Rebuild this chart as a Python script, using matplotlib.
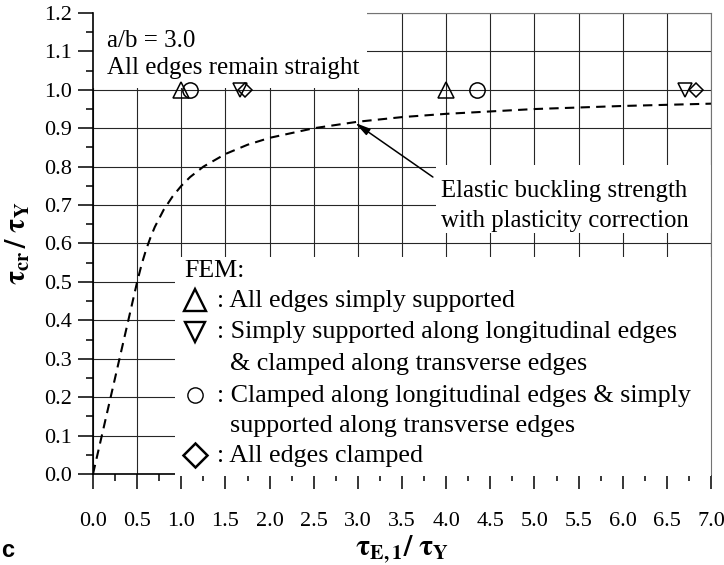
import matplotlib
matplotlib.use("Agg")
import matplotlib.pyplot as plt
from matplotlib.patches import Rectangle
from matplotlib.ticker import MultipleLocator, FormatStrFormatter

plt.rcParams["font.family"] = ["Liberation Serif", "DejaVu Serif"]
plt.rcParams["mathtext.fontset"] = "stix"

# elastic buckling strength with plasticity correction (dashed curve)
tau_e = [0.0, 0.1, 0.2, 0.3, 0.4, 0.5, 0.55, 0.6, 0.65, 0.7, 0.8, 0.9, 1.0,
         1.1, 1.25, 1.5, 1.75, 2.0, 2.5, 3.0, 3.5, 4.0, 5.0, 6.0, 7.0]
tau_cr = [0.0, 0.1, 0.2, 0.3, 0.4, 0.5, 0.545, 0.583, 0.615, 0.643, 0.6875,
          0.722, 0.75, 0.773, 0.8, 0.833, 0.857, 0.875, 0.9, 0.917, 0.929,
          0.9375, 0.95, 0.958, 0.964]

# FEM results
ss_x = [1.0, 4.0]          # all edges simply supported
ss_y = [1.0, 1.0]
sc_x = [1.67, 6.70]        # SS longitudinal, clamped transverse
sc_y = [1.0, 1.0]
cs_x = [1.10, 4.35]        # clamped longitudinal, SS transverse
cs_y = [1.0, 1.0]
cc_x = [1.72, 6.83]        # all edges clamped
cc_y = [1.0, 1.0]

legend_lines = [
    ("^", ": All edges simply supported", None),
    ("v", ": Simply supported along longitudinal edges",
     "& clamped along transverse edges"),
    ("o", ": Clamped along longitudinal edges & simply",
     "supported along transverse edges"),
    ("D", ": All edges clamped", None),
]

fig = plt.figure(figsize=(7.24, 5.65), dpi=100)
ax = fig.add_axes([93 / 724, 1 - 474 / 565, 618 / 724, 461 / 565])

ax.set_xlim(0, 7)
ax.set_ylim(0, 1.2)
ax.xaxis.set_major_locator(MultipleLocator(0.5))
ax.xaxis.set_minor_locator(MultipleLocator(0.25))
ax.yaxis.set_major_locator(MultipleLocator(0.1))
ax.yaxis.set_minor_locator(MultipleLocator(0.05))
ax.xaxis.set_major_formatter(FormatStrFormatter("%.1f"))
ax.yaxis.set_major_formatter(FormatStrFormatter("%.1f"))
ax.tick_params(which="major", direction="out", length=11, width=1.1,
               labelsize=16)
ax.tick_params(which="minor", direction="out", length=5, width=1.1)
ax.tick_params(axis="x", which="major", pad=16)
ax.tick_params(axis="y", which="major", pad=4)

ax.set_axisbelow(True)
ax.grid(True, which="major", color="0.15", lw=0.8)

for side in ["left", "bottom"]:
    ax.spines[side].set_linewidth(1.2)
for side in ["top", "right"]:
    ax.spines[side].set_linewidth(0.8)
    ax.spines[side].set_color("0.45")
ax.spines["left"].set_zorder(4)
ax.spines["right"].set_zorder(4)

# curve
ax.plot(tau_e, tau_cr, color="black", lw=1.5, ls=(0, (4.5, 3)), zorder=2)

# white panels over the grid
ax.add_patch(Rectangle((0.0, 1.005), 3.1, 0.2, facecolor="white",
                       edgecolor="none", zorder=3, clip_on=False))
ax.add_patch(Rectangle((3.88, 0.627), 3.12, 0.177, facecolor="white",
                       edgecolor="none", zorder=3))
ax.add_patch(Rectangle((0.93, -0.004), 6.07, 0.57, facecolor="white",
                       edgecolor="none", zorder=3, clip_on=False))

mk = dict(ls="none", mfc="none", mec="black", mew=1.1, zorder=4,
          clip_on=False)
ax.plot(ss_x, ss_y, marker="^", ms=11, **mk)
ax.plot(sc_x, sc_y, marker="v", ms=10, **mk)
ax.plot(cs_x, cs_y, marker="o", ms=11, **mk)
ax.plot(cc_x, cc_y, marker="D", ms=7, **mk)

ax.text(0.16, 1.111, "a/b = 3.0", fontsize=18, zorder=5, va="baseline")
ax.text(0.16, 1.04, "All edges remain straight", fontsize=18, zorder=5,
        va="baseline")

ax.text(3.94, 0.721, "Elastic buckling strength", fontsize=17.8, zorder=5,
        va="baseline")
ax.text(3.94, 0.643, "with plasticity correction", fontsize=17.8, zorder=5,
        va="baseline")
ax.annotate("", xy=(2.97, 0.914), xytext=(3.85, 0.773),
            arrowprops=dict(arrowstyle="-|>,head_length=0.9,head_width=0.22",
                            color="black", lw=1.1, shrinkA=0, shrinkB=0),
            zorder=5)

# FEM key
txt = dict(fontsize=18.7, zorder=5, va="baseline")
ax.text(1.03, 0.513, "FEM:", **txt)
row_y = [0.435, 0.354, 0.271, 0.187, 0.109, 0.031]
mark_y = {"^": 0.453, "v": 0.370, "o": 0.206, "D": 0.049}
mark_ms = {"^": 16, "v": 15, "o": 11, "D": 12.5}
mark_mew = {"^": 1.7, "v": 1.7, "o": 1.0, "D": 1.8}
i = 0
for m, first, second in legend_lines:
    ax.plot([1.16], [mark_y[m]], marker=m, ms=mark_ms[m], ls="none",
            mfc="none", mec="black", mew=mark_mew[m], zorder=5)
    ax.text(1.41, row_y[i], first, **txt)
    i += 1
    if second:
        ax.text(1.55, row_y[i], second, **txt)
        i += 1

ax.set_xlabel(r"$\mathbf{\tau_{E,1}/\ \tau_{Y}}$", fontsize=21, labelpad=2)
ax.set_ylabel(r"$\mathbf{\tau_{cr}\,/\ \tau_{Y}}$", fontsize=21, labelpad=9)

fig.text(0.002, 0.014, "c", fontsize=17, fontweight="bold",
         family="Liberation Sans", va="baseline")

fig.savefig("out.png", dpi=100)
